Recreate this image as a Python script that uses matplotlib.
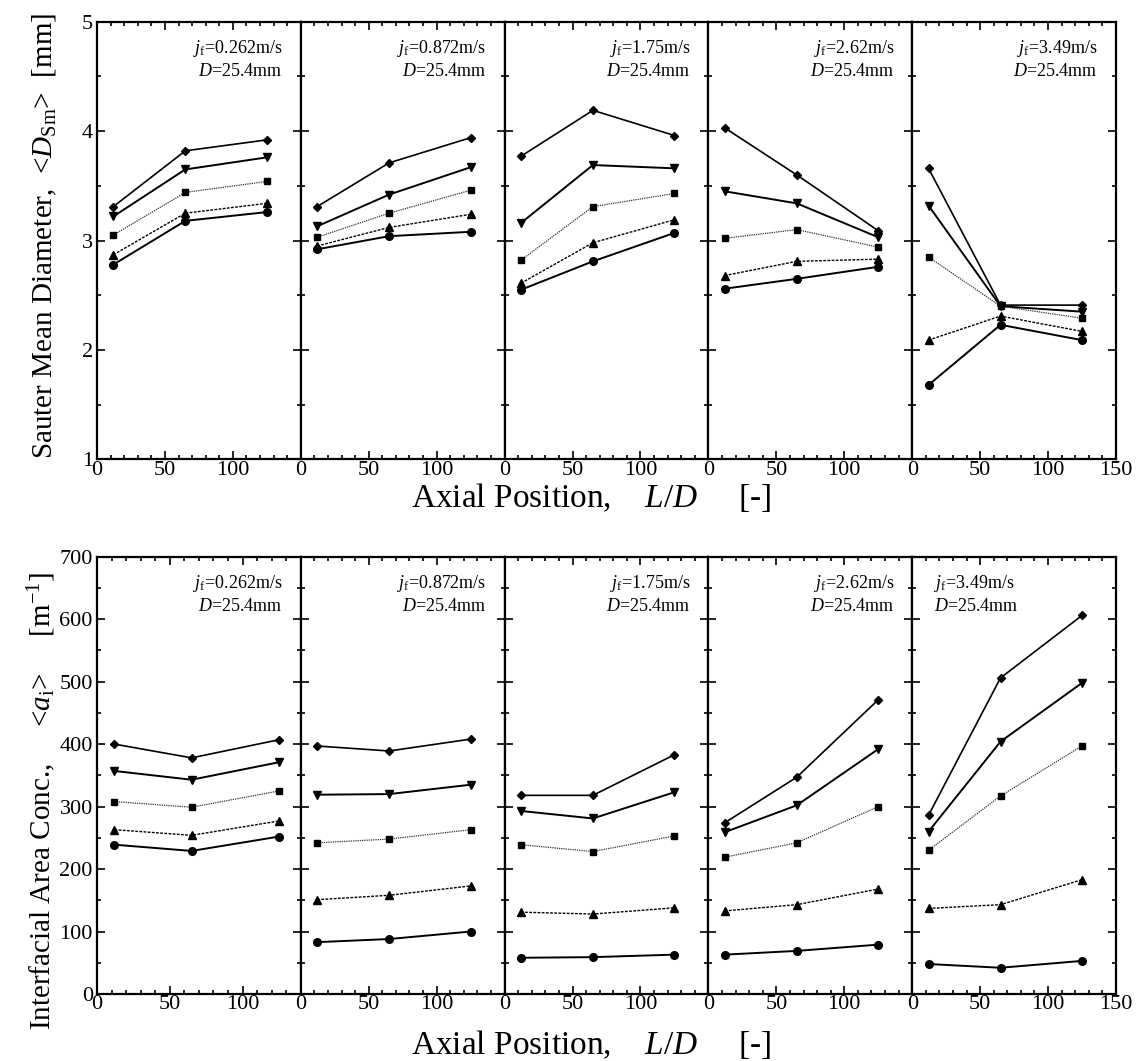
import numpy as np
import matplotlib.pyplot as plt
from matplotlib.ticker import MultipleLocator

plt.rcParams['font.family'] = 'Liberation Serif'
plt.rcParams['mathtext.fontset'] = 'custom'
plt.rcParams['mathtext.rm'] = 'Liberation Serif'
plt.rcParams['mathtext.it'] = 'Liberation Serif:italic'

# Axial measuring stations (L/D) and liquid velocities of the five panels
ld = [12, 65, 125]
jf = ['0.262', '0.872', '1.75', '2.62', '3.49']

# Sauter mean diameter [mm], one row per jf panel, one list per data set
dsm_1 = [[3.31, 3.82, 3.92], [3.31, 3.71, 3.94], [3.77, 4.19, 3.96], [4.03, 3.60, 3.09], [3.66, 2.41, 2.41]]
dsm_2 = [[3.22, 3.65, 3.76], [3.13, 3.42, 3.67], [3.16, 3.69, 3.66], [3.45, 3.34, 3.03], [3.32, 2.40, 2.35]]
dsm_3 = [[3.05, 3.44, 3.54], [3.03, 3.25, 3.46], [2.82, 3.31, 3.43], [3.02, 3.10, 2.94], [2.85, 2.40, 2.29]]
dsm_4 = [[2.87, 3.25, 3.34], [2.95, 3.12, 3.24], [2.61, 2.98, 3.19], [2.68, 2.81, 2.83], [2.09, 2.31, 2.17]]
dsm_5 = [[2.78, 3.18, 3.26], [2.92, 3.04, 3.08], [2.55, 2.81, 3.07], [2.56, 2.65, 2.76], [1.68, 2.23, 2.09]]

# Interfacial area concentration [1/m]
ai_1 = [[400, 378, 407], [397, 389, 408], [318, 318, 383], [274, 347, 471], [286, 506, 606]]
ai_2 = [[357, 343, 371], [319, 320, 335], [293, 281, 323], [259, 302, 392], [260, 404, 498]]
ai_3 = [[308, 299, 325], [242, 248, 263], [239, 228, 253], [219, 242, 300], [230, 317, 397]]
ai_4 = [[263, 254, 277], [151, 158, 173], [131, 128, 138], [133, 143, 168], [137, 143, 183]]
ai_5 = [[239, 229, 252], [83, 88, 100], [58, 59, 63], [63, 69, 79], [48, 42, 53]]

styles = [
    dict(marker='D', ms=4.5, ls='-', lw=1.2),
    dict(marker='v', ms=5.5, ls='-', lw=1.4),
    dict(marker='s', ms=4.5, ls=(0, (1, 0.8)), lw=0.9, color='#333333'),
    dict(marker='^', ms=5.5, ls=(0, (2, 1)), lw=1.0),
    dict(marker='o', ms=5.5, ls='-', lw=1.4),
]

W, H = 1136, 1061
fig = plt.figure(figsize=(W / 100, H / 100), dpi=100)

x0, x1 = 97, 1116
pw = (x1 - x0) / 5


def draw_row(top, bottom, sets, ylim, ymajor, yminor, first_xmax, last_left):
    h = bottom - top
    for k in range(5):
        ax = fig.add_axes([(x0 + k * pw) / W, 1 - bottom / H, pw / W, h / H])
        for s, st in zip(sets, styles):
            kw = dict(color='black', mfc='black', mec='black')
            kw.update(st)
            ax.plot(ld, s[k], **kw)
        ax.set_xlim(0, first_xmax if k == 0 else 150)
        ax.set_ylim(*ylim)
        ax.set_xticks([0, 50, 100, 150] if k == 4 else [0, 50, 100])
        ax.xaxis.set_minor_locator(MultipleLocator(10))
        ax.yaxis.set_major_locator(MultipleLocator(ymajor))
        ax.yaxis.set_minor_locator(MultipleLocator(yminor))
        ax.tick_params(which='both', direction='in', top=True, right=True,
                       labelsize=16, width=1.2)
        ax.tick_params(axis='x', pad=1)
        ax.tick_params(axis='y', pad=3)
        ax.tick_params(which='major', length=6)
        ax.tick_params(which='minor', length=3)
        if k > 0:
            ax.tick_params(labelleft=False)
        for sp in ax.spines.values():
            sp.set_linewidth(1.6)
        label = '$j_{\\rm f}$=' + jf[k] + 'm/s\n$D$=25.4mm'
        if k == 4 and last_left:
            ax.annotate(label, xy=(0, 1), xycoords='axes fraction',
                        xytext=(22, -16), textcoords='offset pixels',
                        ha='left', va='top', fontsize=13, linespacing=1.3)
        else:
            ax.annotate(label, xy=(1, 1), xycoords='axes fraction',
                        xytext=(-18, -16), textcoords='offset pixels',
                        ha='right', va='top', fontsize=13, linespacing=1.3)


draw_row(21.7, 459.4, [dsm_1, dsm_2, dsm_3, dsm_4, dsm_5], (1, 5), 1, 0.5, 150, False)
draw_row(556.7, 994.0, [ai_1, ai_2, ai_3, ai_4, ai_5], (0, 700), 100, 50, 140, True)

xlab = 'Axial Position,    $L/D$     [-]'
fig.text(591 / W, 1 - 507 / H, xlab, ha='center', va='baseline', fontsize=24)
fig.text(591 / W, 1 - 1054 / H, xlab, ha='center', va='baseline', fontsize=24)
fig.text(45 / W, 1 - 236 / H, 'Sauter Mean Diameter,  <$D_{\\rm Sm}$>  [mm]',
         rotation=90, ha='center', va='center', fontsize=21)
fig.text(42 / W, 1 - 801 / H, 'Interfacial Area Conc.,     <$a_{\\rm i}$>     [m$^{-1}$]',
         rotation=90, ha='center', va='center', fontsize=21)

fig.savefig('out.png', dpi=100)
